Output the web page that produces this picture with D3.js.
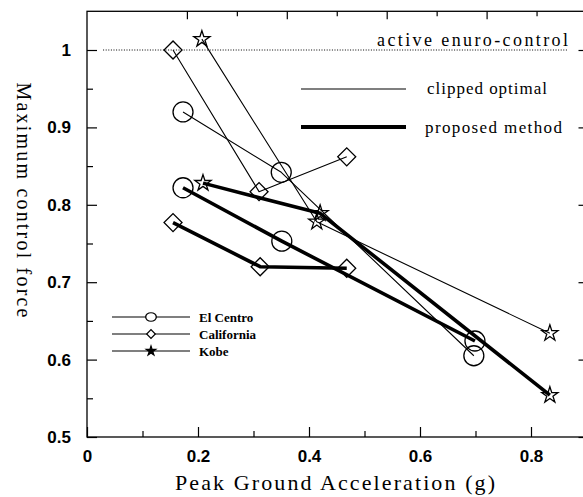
<!DOCTYPE html>
<html lang="en">
<head>
<meta charset="utf-8">
<title>Maximum control force vs PGA</title>
<script src="https://d3js.org/d3.v7.min.js"></script>
<style>
  body { margin: 0; background: #fff; }
  svg { display: block; }
</style>
</head>
<body>
<svg id="chart" width="583" height="497"></svg>
<script>
// data
var pgaElCentroClip   = [0.173, 0.350, 0.697];
var forceElCentroClip = [0.920, 0.842, 0.605];
var pgaElCentroProp   = [0.173, 0.351, 0.699];
var forceElCentroProp = [0.822, 0.753, 0.624];

var pgaCaliforniaClip   = [0.155, 0.310, 0.468];
var forceCaliforniaClip = [1.000, 0.817, 0.862];
var pgaCaliforniaProp   = [0.155, 0.312, 0.468];
var forceCaliforniaProp = [0.777, 0.720, 0.718];

var pgaKobeClip   = [0.207, 0.414, 0.834];
var forceKobeClip = [1.014, 0.778, 0.634];
var pgaKobeProp   = [0.209, 0.420, 0.834];
var forceKobeProp = [0.828, 0.789, 0.554];

var xTickValues = [0, 0.2, 0.4, 0.6, 0.8];
var xMinorTicks = [0.1, 0.3, 0.5, 0.7];
var yTickValues = [0.5, 0.6, 0.7, 0.8, 0.9, 1];
var yMinorTicks = [0.55, 0.65, 0.75, 0.85, 0.95];
var topMajorTicks = [0.2, 0.4, 0.6, 0.8];
var topMinorTicks = [0.3, 0.5, 0.7, 0.9];
var referenceLevel = 1.0;

var legendNames = ["El Centro", "California", "Kobe"];
var legendMarkers = ["circle", "diamond", "star"];

var svg = d3.select("#chart");
// plot frame edges (the right edge sits just past the window)
var frameL = 87, frameR = 586.5, frameT = 11.3, frameB = 437;

var x = d3.scaleLinear().domain([0, 0.9]).range([frameL, frameR]);
var y = d3.scaleLinear().domain([0.5, 1.05]).range([frameB, frameT]);
var xTop = d3.scaleLinear().domain([0, 1]).range([frameL, frameR]);

// frame
svg.append("rect")
  .attr("x", frameL).attr("y", frameT)
  .attr("width", frameR - frameL).attr("height", frameB - frameT)
  .attr("fill", "none").attr("stroke", "#000").attr("stroke-width", 1.3);

function styleAxis(g) {
  g.select(".domain").remove();
  g.selectAll("line").attr("stroke", "#000").attr("stroke-width", 1.2);
  g.selectAll("text")
    .attr("fill", "#000")
    .style("font-family", "'Liberation Sans', Arial, sans-serif")
    .style("font-weight", "bold")
    .style("font-size", "17px");
}

// bottom axis, ticks inward
svg.append("g")
  .attr("transform", "translate(0," + frameB + ")")
  .call(d3.axisBottom(x).tickValues(xTickValues).tickSizeInner(-10).tickSizeOuter(0)
        .tickPadding(25).tickFormat(d3.format("")))
  .call(styleAxis)
  .call(function (g) { g.selectAll("text").attr("dy", "0"); });
svg.append("g")
  .attr("transform", "translate(0," + frameB + ")")
  .call(d3.axisBottom(x).tickValues(xMinorTicks).tickSizeInner(-6).tickSizeOuter(0).tickFormat(""))
  .call(styleAxis);

// left axis
svg.append("g")
  .attr("transform", "translate(" + frameL + ",0)")
  .call(d3.axisLeft(y).tickValues(yTickValues).tickSizeInner(-10).tickSizeOuter(0)
        .tickPadding(16).tickFormat(d3.format("")))
  .call(styleAxis);
svg.append("g")
  .attr("transform", "translate(" + frameL + ",0)")
  .call(d3.axisLeft(y).tickValues(yMinorTicks).tickSizeInner(-6).tickSizeOuter(0).tickFormat(""))
  .call(styleAxis);

// right axis ticks
svg.append("g")
  .attr("transform", "translate(" + frameR + ",0)")
  .call(d3.axisRight(y).tickValues(yTickValues).tickSizeInner(-8).tickSizeOuter(0).tickFormat(""))
  .call(styleAxis);

// top axis ticks
svg.append("g")
  .attr("transform", "translate(0," + frameT + ")")
  .call(d3.axisTop(xTop).tickValues(topMajorTicks).tickSizeInner(-8).tickSizeOuter(0).tickFormat(""))
  .call(styleAxis);
svg.append("g")
  .attr("transform", "translate(0," + frameT + ")")
  .call(d3.axisTop(xTop).tickValues(topMinorTicks).tickSizeInner(-5).tickSizeOuter(0).tickFormat(""))
  .call(styleAxis);

// dotted reference line
svg.append("line")
  .attr("x1", x(0.029)).attr("x2", x(0.866))
  .attr("y1", y(referenceLevel)).attr("y2", y(referenceLevel))
  .attr("stroke", "#000").attr("stroke-width", 1)
  .attr("stroke-dasharray", "1,1.6");

svg.append("text")
  .attr("x", 568).attr("y", 46)
  .attr("text-anchor", "end")
  .attr("textLength", 191).attr("lengthAdjust", "spacing")
  .style("font-family", "'Liberation Serif', 'Times New Roman', serif")
  .style("font-size", "18px")
  .text("active enuro-control");

// marker shapes
var markerPath = {
  circle: function (s) { return d3.symbol(d3.symbolCircle, Math.PI * s * s)(); },
  diamond: function (s) { return d3.symbol(d3.symbolSquare, 2 * s * s)(); },
  star: function (s) { return d3.symbol(d3.symbolStar, s * s / 0.8908130915292852)(); }
};

function drawSeries(xs, ys, width, marker, size) {
  var pts = xs.map(function (d, i) { return [x(d), y(ys[i])]; });
  svg.append("path")
    .attr("d", d3.line()(pts))
    .attr("fill", "none").attr("stroke", "#000")
    .attr("stroke-width", width).attr("stroke-linejoin", "round");
  svg.selectAll(null).data(pts).enter().append("path")
    .attr("d", markerPath[marker](size))
    .attr("transform", function (p) {
      return "translate(" + p[0] + "," + p[1] + ")" + (marker === "diamond" ? " rotate(45)" : "");
    })
    .attr("fill", "none").attr("stroke", "#000").attr("stroke-width", 1.3);
}

// clipped optimal (thin)
drawSeries(pgaElCentroClip, forceElCentroClip, 1.1, "circle", 10);
drawSeries(pgaCaliforniaClip, forceCaliforniaClip, 1.1, "diamond", 9);
drawSeries(pgaKobeClip, forceKobeClip, 1.1, "star", 8.5);
// proposed method (thick)
drawSeries(pgaElCentroProp, forceElCentroProp, 3.6, "circle", 10);
drawSeries(pgaCaliforniaProp, forceCaliforniaProp, 3.6, "diamond", 9);
drawSeries(pgaKobeProp, forceKobeProp, 3.6, "star", 8.5);

// line style legend
var styleLegend = [
  { label: "clipped optimal", w: 1.2, y: 89, tx: 427, ty: 94, len: 120 },
  { label: "proposed method", w: 3.8, y: 127, tx: 425, ty: 133, len: 137 }
];
styleLegend.forEach(function (d) {
  svg.append("line")
    .attr("x1", 301).attr("x2", 406).attr("y1", d.y).attr("y2", d.y)
    .attr("stroke", "#000").attr("stroke-width", d.w);
  svg.append("text")
    .attr("x", d.tx).attr("y", d.ty)
    .attr("textLength", d.len).attr("lengthAdjust", "spacing")
    .style("font-family", "'Liberation Serif', 'Times New Roman', serif")
    .style("font-size", "17px")
    .text(d.label);
});

// earthquake legend
var legendY = [317, 334, 351];
legendNames.forEach(function (name, i) {
  var ly = legendY[i];
  svg.append("line")
    .attr("x1", 112).attr("x2", 190).attr("y1", ly).attr("y2", ly)
    .attr("stroke", "#000").attr("stroke-width", 1.1);
  var m = legendMarkers[i];
  var mk = svg.append("path")
    .attr("stroke", "#000").attr("stroke-width", 1.2);
  if (m === "circle") {
    mk.attr("d", markerPath.circle(1))
      .attr("transform", "translate(151," + ly + ") scale(5.3,4.3)")
      .attr("stroke-width", 0.25).attr("fill", "#fff");
  } else if (m === "diamond") {
    mk.attr("d", markerPath.diamond(4.3))
      .attr("transform", "translate(151," + ly + ") rotate(45)").attr("fill", "#fff");
  } else {
    mk.attr("d", markerPath.star(5)).attr("transform", "translate(151," + ly + ")")
      .attr("fill", "#000");
  }
  svg.append("text")
    .attr("x", 199).attr("y", ly + 4.5)
    .style("font-family", "'Liberation Serif', 'Times New Roman', serif")
    .style("font-weight", "bold")
    .style("font-size", "13px")
    .text(name);
});

// axis titles
svg.append("text")
  .attr("x", 335).attr("y", 490)
  .attr("text-anchor", "middle")
  .attr("textLength", 320).attr("lengthAdjust", "spacing")
  .style("font-family", "'Liberation Serif', 'Times New Roman', serif")
  .style("font-size", "22px")
  .text("Peak Ground Acceleration (g)");

svg.append("text")
  .attr("transform", "translate(17,200) rotate(90)")
  .attr("text-anchor", "middle")
  .attr("textLength", 235).attr("lengthAdjust", "spacing")
  .style("font-family", "'Liberation Serif', 'Times New Roman', serif")
  .style("font-size", "20px")
  .text("Maximum control force");
</script>
</body>
</html>
